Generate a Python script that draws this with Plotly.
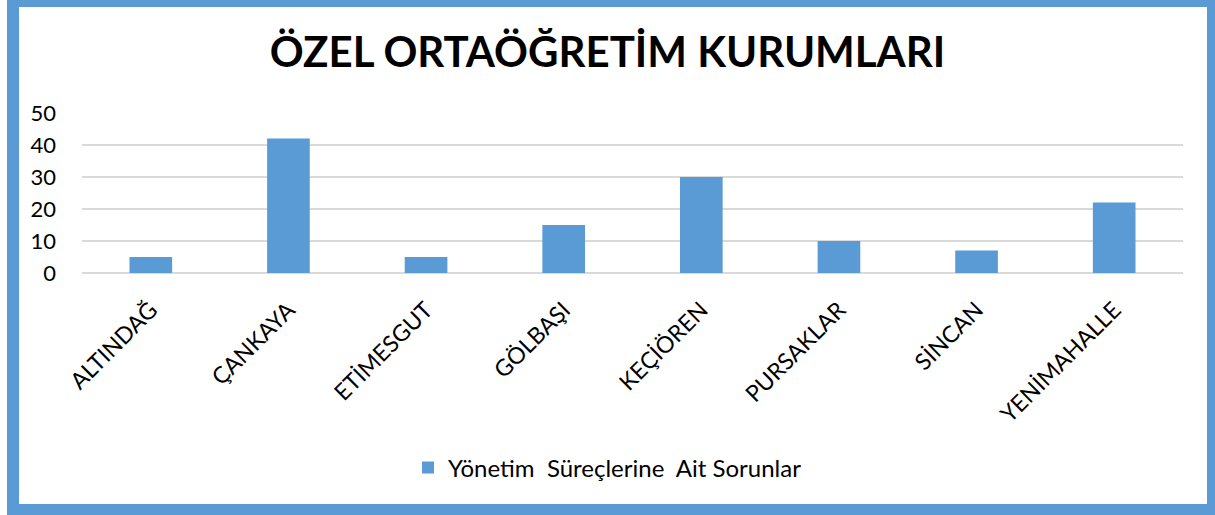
import plotly.graph_objects as go

categories = ["ALTINDAĞ", "ÇANKAYA", "ETİMESGUT", "GÖLBAŞI", "KEÇİÖREN", "PURSAKLAR", "SİNCAN", "YENİMAHALLE"]
values = [5, 42, 5, 15, 30, 10, 7, 22]
series_name = "Yönetim\u00a0 Süreçlerine\u00a0 Ait Sorunlar"
title_text = "ÖZEL ORTAÖĞRETİM KURUMLARI"
y_ticks = [0, 10, 20, 30, 40, 50]

W, H = 1215, 515
L, R, T, B = 82, 32, 113, 242
BLUE = "#5B9BD5"
FONT = "Lato"

fig = go.Figure()
fig.add_trace(go.Bar(
    x=categories, y=values, name=series_name,
    marker=dict(color=BLUE, line=dict(width=0)),
    showlegend=True,
))

pw = W - L - R
ph = H - T - B
def px_x(v):
    return (v - L) / pw
def px_y(v):
    return (H - B - v) / ph

border = [
    (7, 0, 19, 515),
    (7, 0, 1215, 7),
    (1207, 0, 1215, 515),
    (7, 504, 1215, 515),
]
shapes = []
for x0, y0, x1, y1 in border:
    shapes.append(dict(type="rect", xref="paper", yref="paper",
                       x0=px_x(x0), x1=px_x(x1), y0=px_y(y1), y1=px_y(y0),
                       fillcolor=BLUE, line=dict(width=0), layer="above"))

fig.update_layout(
    width=W, height=H,
    margin=dict(l=L, r=R, t=T, b=B, autoexpand=False),
    paper_bgcolor="white", plot_bgcolor="white",
    bargap=0.69,
    font=dict(family=FONT, color="black"),
    title=dict(text="<b>" + title_text + "</b>", x=0.5, xref="container", xanchor="center",
               y=1 - 52 / H, yanchor="middle", yref="container",
               font=dict(family=FONT, size=42, color="black")),
    xaxis=dict(tickangle=-45, tickfont=dict(size=23, family=FONT), showgrid=False,
               showline=False, ticks="", ticklen=0, ticklabelstandoff=18),
    yaxis=dict(range=[0, 50], tickvals=y_ticks, showgrid=True, gridcolor="#D9D9D9",
               gridwidth=1.5, zeroline=True, zerolinecolor="#D9D9D9", zerolinewidth=1.5,
               tickfont=dict(size=22, family=FONT), ticks="", ticklabelstandoff=25),
    legend=dict(orientation="h", x=0.5, xanchor="center", xref="container",
                y=(H - 468) / H, yanchor="middle", yref="container",
                itemwidth=30,
                font=dict(size=24, family=FONT)),
    shapes=shapes,
)

fig.write_html("out.html", config={"displayModeBar": False},
               post_script="document.body.style.margin='0';document.body.style.overflow='hidden';")
